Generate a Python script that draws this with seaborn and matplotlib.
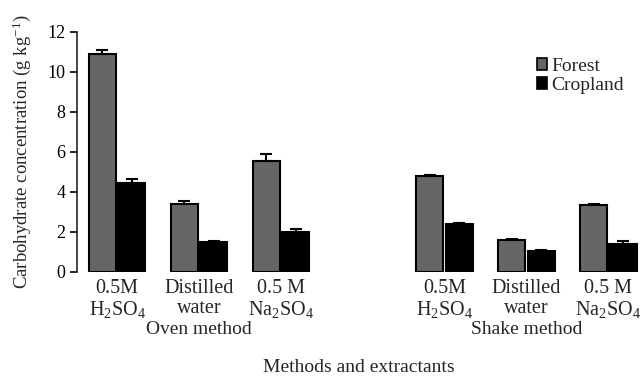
import numpy as np
import pandas as pd
import matplotlib
matplotlib.use("Agg")
import matplotlib.pyplot as plt
import seaborn as sns
from matplotlib.patches import Patch

# data
extractants = ["0.5M\nH$_2$SO$_4$", "Distilled\nwater", "0.5 M\nNa$_2$SO$_4$"]
methods = ["Oven method", "Shake method"]
forest_oven = [10.9, 3.4, 5.55]
forest_oven_err = [0.2, 0.17, 0.37]
crop_oven = [4.47, 1.52, 2.02]
crop_oven_err = [0.18, 0.04, 0.12]
forest_shake = [4.8, 1.58, 3.35]
forest_shake_err = [0.06, 0.06, 0.06]
crop_shake = [2.4, 1.07, 1.4]
crop_shake_err = [0.06, 0.05, 0.14]
landuses = ["Forest", "Cropland"]
colors = {"Forest": "#666666", "Cropland": "black"}

# long table; a blank slot separates the two methods
slots = ["o0", "o1", "o2", "gap", "s0", "s1", "s2"]
rows = []
for i in range(3):
    rows.append(("o%d" % i, "Forest", forest_oven[i], forest_oven_err[i]))
    rows.append(("o%d" % i, "Cropland", crop_oven[i], crop_oven_err[i]))
for i in range(3):
    rows.append(("s%d" % i, "Forest", forest_shake[i], forest_shake_err[i]))
    rows.append(("s%d" % i, "Cropland", crop_shake[i], crop_shake_err[i]))
df = pd.DataFrame(rows, columns=["slot", "land", "value", "err"])

sns.set_style("ticks")
plt.rcParams["font.family"] = ["Liberation Serif", "DejaVu Serif"]
plt.rcParams["mathtext.fontset"] = "custom"
plt.rcParams["mathtext.rm"] = "Liberation Serif"
plt.rcParams["mathtext.it"] = "Liberation Serif:italic"

fig = plt.figure(figsize=(6.41, 3.77), dpi=100)
ax = fig.add_axes([77 / 641, 1 - 272 / 377, 1 - 77 / 641, 240 / 377])

sns.barplot(data=df, x="slot", y="value", hue="land", order=slots,
            hue_order=landuses, palette=colors, width=0.72, gap=0.08,
            edgecolor="black", linewidth=1.5, errorbar=None, legend=False, ax=ax)

# upward error bars, one per bar
for container, land in zip(ax.containers, landuses):
    sub = df[df["land"] == land].set_index("slot")
    for bar in container:
        x = bar.get_x() + bar.get_width() / 2
        slot = slots[int(round(x))]
        if slot not in sub.index:
            continue
        ax.errorbar(x, sub.loc[slot, "value"], yerr=[[0], [sub.loc[slot, "err"]]],
                    fmt="none", ecolor="black", elinewidth=1.5, capsize=4.5,
                    capthick=1.5, zorder=3)

ax.set_xlim(-0.49, 6.4)
ax.set_ylim(0, 12)
ax.set_yticks(np.arange(0, 13, 2))
ax.tick_params(axis="y", labelsize=13, length=5, width=1.2, colors="black")
ax.set_xticks([0, 1, 2, 4, 5, 6])
ax.set_xticklabels(extractants + extractants, fontsize=14.5, linespacing=1.05)
ax.tick_params(axis="x", length=0, pad=5)
ax.set_xlabel("")
ax.set_ylabel("Carbohydrate concentration (g kg$^{-1}$)", fontsize=13.5, labelpad=10)
sns.despine(ax=ax, bottom=True)
ax.spines["left"].set_linewidth(1.2)

for pos, name in zip([1, 5], methods):
    ax.text(pos, -(321 - 272) / 240, name, transform=ax.get_xaxis_transform(),
            ha="center", va="top", fontsize=14)
ax.text(0.5, -(368 - 272) / 240, "Methods and extractants", transform=ax.transAxes,
        ha="center", va="center", fontsize=14)

handles = [Patch(facecolor=colors[l], edgecolor="black", linewidth=1.2, label=l) for l in landuses]
ax.legend(handles=handles, loc="upper left", bbox_to_anchor=(527 / 641, 1 - 48 / 377),
          bbox_transform=fig.transFigure, frameon=False, fontsize=14,
          handlelength=0.55, handleheight=0.55, handletextpad=0.2, labelspacing=0.1,
          borderpad=0)

fig.savefig("out.png", dpi=100)
